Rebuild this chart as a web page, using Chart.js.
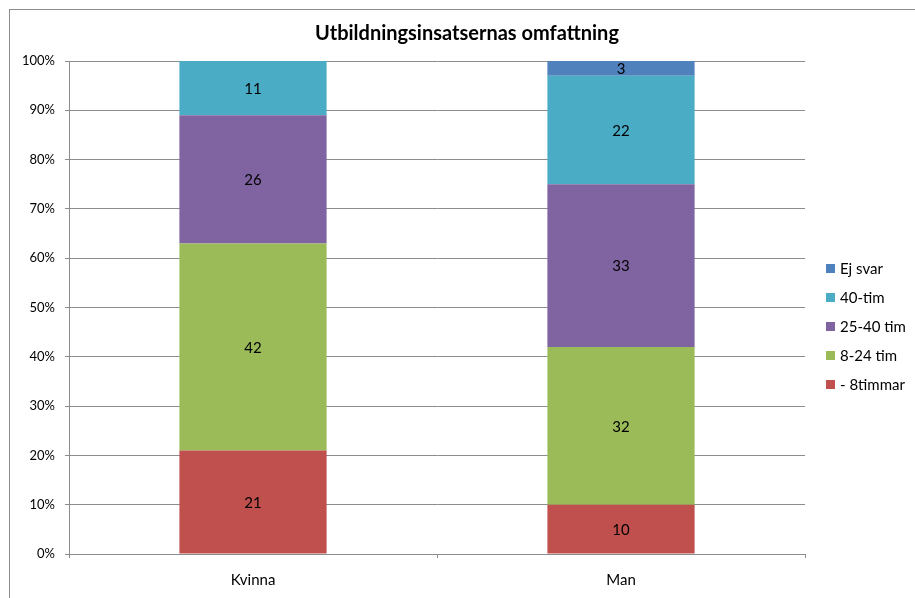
<!DOCTYPE html>
<html>
<head>
<meta charset="utf-8">
<script src="https://cdn.jsdelivr.net/npm/chart.js@4.4.0/dist/chart.umd.min.js"></script>
<style>
  html, body { margin: 0; padding: 0; background: #fff; }
  #wrap { width: 915px; height: 598px; }
</style>
</head>
<body>
<div id="wrap"><canvas id="chart" width="915" height="598"></canvas></div>
<script>
// categories and series (percent of each group)
const categories = ["Kvinna", "Man"];
const under8 = [21, 10];
const tim8to24 = [42, 32];
const tim25to40 = [26, 33];
const tim40 = [11, 22];
const ejSvar = [0, 3];
const yTicks = [0, 10, 20, 30, 40, 50, 60, 70, 80, 90, 100];

const titleText = "Utbildningsinsatsernas omfattning";
const FONT = "Lato, 'Open Sans', sans-serif";

// frame + white background
const framePlugin = {
  id: "frame",
  beforeDraw(chart) {
    const ctx = chart.ctx;
    ctx.save();
    ctx.fillStyle = "#fff";
    ctx.fillRect(0, 0, chart.width, chart.height);
    ctx.strokeStyle = "#8c8c8c";
    ctx.lineWidth = 1;
    ctx.strokeRect(9.5, 9.5, chart.width + 20, chart.height + 20);
    ctx.restore();
  }
};

// value labels in the middle of every segment
const valueLabels = {
  id: "valueLabels",
  afterDatasetsDraw(chart) {
    const ctx = chart.ctx;
    ctx.save();
    ctx.font = "15px " + FONT;
    ctx.fillStyle = "#000";
    ctx.textAlign = "center";
    ctx.textBaseline = "middle";
    chart.data.datasets.forEach((ds, i) => {
      chart.getDatasetMeta(i).data.forEach((bar, j) => {
        const v = ds.data[j];
        if (!v) return;
        ctx.fillText(String(v), bar.x, (bar.y + bar.base) / 2 + 1);
      });
    });
    ctx.restore();
  }
};

// title and legend drawn by hand so they sit where Excel put them
const titleLegend = {
  id: "titleLegend",
  afterDraw(chart) {
    const ctx = chart.ctx;
    ctx.save();
    ctx.fillStyle = "#000";
    ctx.textBaseline = "middle";
    ctx.textAlign = "center";
    ctx.font = "bold 20px " + FONT;
    ctx.fillText(titleText, 467, 34);

    ctx.textAlign = "left";
    ctx.font = "15px " + FONT;
    const ds = chart.data.datasets;
    const n = ds.length;
    for (let k = 0; k < n; k++) {
      const d = ds[n - 1 - k];
      const y = 268 + k * 29;
      ctx.fillStyle = d.backgroundColor;
      ctx.fillRect(826, y - 4, 9, 9);
      ctx.fillStyle = "#000";
      ctx.fillText(d.label, 840, y + 1);
    }
    ctx.restore();
  }
};

new Chart(document.getElementById("chart"), {
  type: "bar",
  data: {
    labels: categories,
    datasets: [
      { label: "- 8timmar", data: under8, backgroundColor: "#C0504D" },
      { label: "8-24 tim", data: tim8to24, backgroundColor: "#9BBB59" },
      { label: "25-40 tim", data: tim25to40, backgroundColor: "#8064A2" },
      { label: "40-tim", data: tim40, backgroundColor: "#4BACC6" },
      { label: "Ej svar", data: ejSvar, backgroundColor: "#4F81BD" }
    ]
  },
  options: {
    responsive: false,
    animation: false,
    layout: { padding: { left: 0, top: 61, right: 110, bottom: 0 } },
    datasets: { bar: { categoryPercentage: 1, barPercentage: 0.4, borderWidth: 0 } },
    plugins: {
      legend: { display: false },
      title: { display: false },
      tooltip: { enabled: false }
    },
    scales: {
      x: {
        stacked: true,
        afterFit(scale) { scale.height = 44; },
        grid: { offset: true, drawOnChartArea: false, drawTicks: true, tickLength: 4, color: "#8c8c8c" },
        border: { color: "#8c8c8c" },
        ticks: { color: "#000", font: { family: FONT, size: 15 }, padding: 13 }
      },
      y: {
        stacked: true,
        min: 0,
        max: 100,
        afterFit(scale) { scale.width = 69; },
        afterBuildTicks(scale) { scale.ticks = yTicks.map(v => ({ value: v })); },
        grid: { color: "#8c8c8c", tickLength: 4 },
        border: { color: "#8c8c8c" },
        ticks: {
          color: "#000",
          font: { family: FONT, size: 13 },
          padding: 10,
          callback: v => v + "%"
        }
      }
    }
  },
  plugins: [framePlugin, valueLabels, titleLegend]
});
</script>
</body>
</html>
